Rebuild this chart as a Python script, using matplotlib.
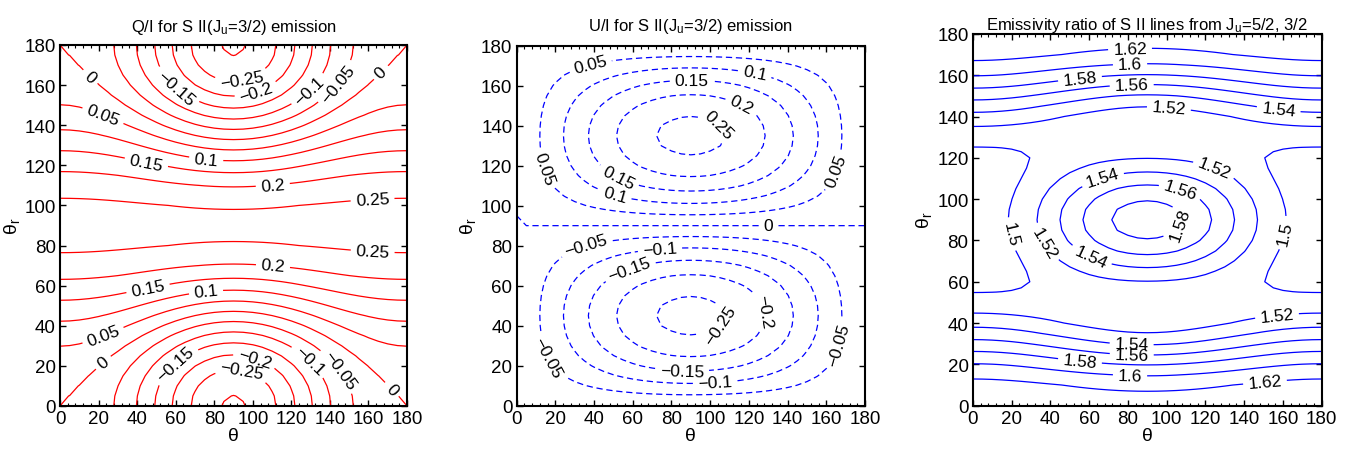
import numpy as np
import matplotlib
matplotlib.use('Agg')
import matplotlib.pyplot as plt
from matplotlib.ticker import MultipleLocator

plt.rcParams['font.family'] = ['Liberation Sans', 'DejaVu Sans']
plt.rcParams['mathtext.fontset'] = 'custom'
plt.rcParams['mathtext.rm'] = 'Liberation Sans'
plt.rcParams['mathtext.it'] = 'Liberation Sans'

# angles (deg) of the computed grid
theta = np.arange(0, 181, 5)
theta_r = np.arange(0, 181, 5)

# contour levels
q_levels = [-0.3, -0.25, -0.2, -0.15, -0.1, -0.05, 0, 0.05, 0.1, 0.15, 0.2, 0.25]
u_levels = [-0.25, -0.2, -0.15, -0.1, -0.05, 0, 0.05, 0.1, 0.15, 0.2, 0.25]
r_levels = [1.5, 1.52, 1.54, 1.56, 1.58, 1.6, 1.62]

# Q/I along theta=0 and theta=90 (poly in cos^2 theta_r)
q_edge = [0.27, -0.36, 0.09]
q_mid = [0.262, -0.567]
q_cross = 0.1
# U/I amplitude (poly in sin^2 theta)
u_amp = [0.24, 0.025]
# emissivity ratio along theta=0 and theta=90 (poly in cos^2 theta_r)
r_edge = [1.49, -0.028, 0.174]
r_mid = [1.59, -0.39, 0.4275]

# label spots (theta, theta_r)
q_lab = [(14.6, 163), (21.6, 143), (44.8, 121.5), (75.9, 124), (110.4, 109.8), (162, 104.8),
         (60.4, 158.9), (94, 164.7), (100.9, 158.9), (129.3, 157.2), (143.1, 161.4), (167.3, 165.5),
         (162, 74.1), (110.4, 69.1), (45.7, 58.3), (75.9, 55), (22.4, 35), (21.6, 22.6),
         (62.1, 18.4), (100, 20.9), (94, 14.3), (127.6, 20.9), (143.1, 16.8), (172.4, 8.5)]
u_lab = [(37.9, 170.9), (90.5, 164.2), (123.3, 167.5), (116.4, 150.9), (103.5, 139.2),
         (14.6, 118.4), (52.6, 114.2), (50.9, 105.9), (164.7, 117.5), (130.2, 89.5),
         (36.2, 79.2), (74.1, 77.5), (58.6, 67.5), (104.3, 40.9), (125, 46.7),
         (165.5, 30.9), (17.2, 25), (85.4, 15), (102.6, 10)]
r_lab = [(81.1, 172.7), (81.1, 165.5), (55.3, 158.2), (82, 154.2), (100.9, 141.3), (157.6, 142.1),
         (125, 116.2), (66.5, 111.4), (106.9, 104.1), (105.2, 88.8), (16.7, 82.3), (36.4, 78.3),
         (60.5, 71), (162.8, 83.1), (156.8, 44.4), (82, 31.5), (82, 25), (55.3, 21.8),
         (81.1, 14.5), (150.7, 11.3)]

T, TR = np.meshgrid(np.radians(theta), np.radians(theta_r))
y = np.sin(T)**2
u = np.cos(TR)**2

qa = np.polyval(q_edge[::-1], u)
qb = np.polyval(q_mid[::-1], u)
Q = qa*(1-y) + qb*y + q_cross*u*y*(1-y)
U = -np.sin(2*TR)*np.sin(T)*np.polyval(u_amp[::-1], y)
R = np.polyval(r_edge[::-1], u)*(1-y) + np.polyval(r_mid[::-1], u)*y


def fmt(v):
    return ('%g' % v).replace('-', '\u2212')


fig = plt.figure(figsize=(13.55, 4.52), dpi=100)
pos = [[0.0443, 0.0996, 0.2561, 0.7987],
       [0.3813, 0.1003, 0.2571, 0.7965],
       [0.7179, 0.1003, 0.2576, 0.8225]]
titles = ['Q/I for S II(J$_\\mathrm{u}$=3/2) emission',
          'U/I for S II(J$_\\mathrm{u}$=3/2) emission',
          'Emissivity ratio of S II lines from J$_\\mathrm{u}$=5/2, 3/2']
pads = [10, 11, 3.5]
fields = [Q, U, R]
levs = [q_levels, u_levels, r_levels]
cols = ['#ff0000', '#0000ff', '#0000ff']
styles = ['solid', [(0, (5, 3))], 'solid']
labs = [q_lab, u_lab, r_lab]

for i in range(3):
    ax = fig.add_axes(pos[i])
    cs = ax.contour(theta, theta_r, fields[i], levels=levs[i], colors=cols[i],
                    linewidths=0.9, linestyles=styles[i])
    ax.clabel(cs, fmt=fmt, manual=labs[i], inline=True, inline_spacing=5, fontsize=12.5,
              colors='k')
    ax.set_xlim(0, 180)
    ax.set_ylim(0, 180)
    ax.xaxis.set_major_locator(MultipleLocator(20))
    ax.yaxis.set_major_locator(MultipleLocator(20))
    ax.xaxis.set_minor_locator(MultipleLocator(4))
    ax.tick_params(which='both', direction='in', top=True, right=True, labelsize=13.5, pad=3)
    ax.tick_params(which='major', length=4, width=1)
    ax.tick_params(which='minor', length=2.5, width=0.8)
    ax.tick_params(axis='y', which='minor', left=False, right=False)
    for s in ax.spines.values():
        s.set_linewidth(1.5)
    ax.set_title(titles[i], fontsize=12, pad=pads[i])
    ax.set_xlabel('θ', fontsize=14, labelpad=0)
    ax.set_ylabel('θ$_\\mathrm{r}$', fontsize=14, labelpad=2)

fig.savefig('out.png', dpi=100)
